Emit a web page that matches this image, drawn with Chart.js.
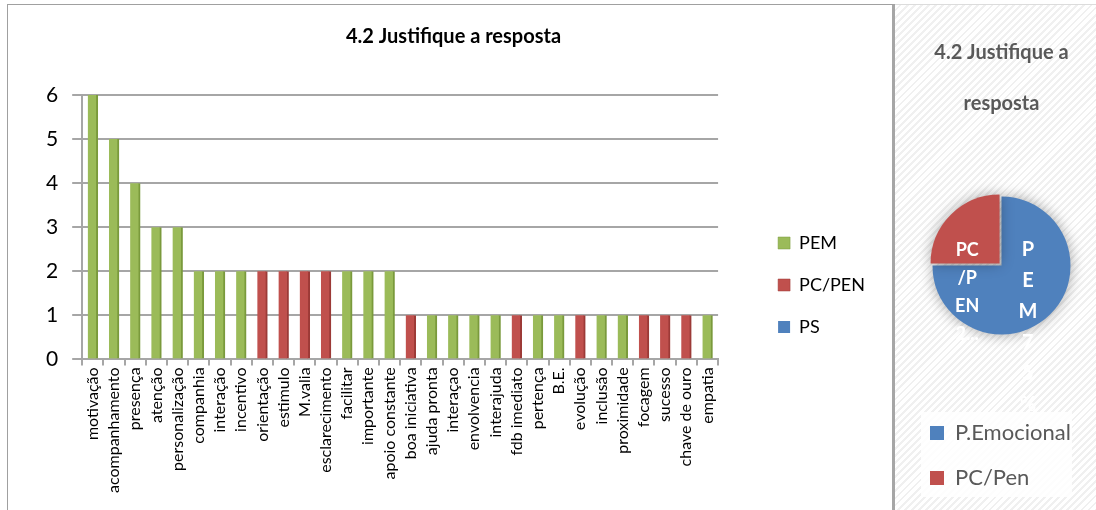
<!DOCTYPE html>
<html>
<head>
<meta charset="utf-8">
<script src="https://cdn.jsdelivr.net/npm/chart.js@4.4.1/dist/chart.umd.min.js"></script>
<style>
	body { margin: 0; background: #fff; font-family: Lato, sans-serif; }
	#wrap { position: relative; width: 1096px; height: 510px; overflow: hidden; }
	#barBox { position: absolute; left: 7px; top: 4px; width: 888px; height: 510px; border: 1px solid #a0a0a0; border-right: 3px solid #a6a6a6; box-sizing: border-box; }
	#pieBox { position: absolute; left: 895px; top: 4px; width: 201px; height: 506px; border-top: 1px solid #dcdcdc; overflow: hidden;
		background: repeating-linear-gradient(-45deg, #f0f0f0 0 2px, #fff 2px 5px); }
	canvas { display: block; }
</style>
</head>
<body>
<div id="wrap">
	<div id="barBox"><canvas id="barChart" width="884" height="505"></canvas></div>
	<div id="pieBox"><canvas id="pieChart" width="201" height="509"></canvas></div>
</div>
<script>
const categories = ['motivação', 'acompanhamento', 'presença', 'atenção', 'personalização', 'companhia',
	'interação', 'incentivo', 'orientação', 'estimulo', 'M.valia', 'esclarecimento', 'facilitar',
	'importante', 'apoio constante', 'boa iniciativa', 'ajuda pronta', 'interaçao', 'envolvencia',
	'interajuda', 'fdb imediato', 'pertença', 'B.E.', 'evolução', 'inclusão', 'proximidade',
	'focagem', 'sucesso', 'chave de ouro', 'empatia'];
const pemValues = [6, 5, 4, 3, 3, 2, 2, 2, null, null, null, null, 2, 2, 2, null, 1, 1, 1, 1, null, 1, 1, null, 1, 1, null, null, null, 1];
const pcpenValues = [null, null, null, null, null, null, null, null, 2, 2, 2, 2, null, null, null, 1, null, null, null, null, 1, null, null, 1, null, null, 1, 1, 1, null];
const psValues = [];
const yTicks = [0, 1, 2, 3, 4, 5, 6];

const pieLabels = ['P.Emocional', 'PC/Pen'];
const pieValues = [75, 25];
const pieDataLabels = [['P', 'E', 'M', '7', '5', '%'], ['PC', '/P', 'EN', '2...']];

const GREEN = '#9bbb59';
const RED = '#c0504d';
const BLUE = '#4f81bd';
const GRID = '#a6a6a6';

new Chart(document.getElementById('barChart').getContext('2d'), {
	type: 'bar',
	data: {
		labels: categories,
		datasets: [
			{ label: 'PEM', data: pemValues, backgroundColor: GREEN, borderColor: '#7a9a3c', borderWidth: { right: 2 } },
			{ label: 'PC/PEN', data: pcpenValues, backgroundColor: RED, borderColor: '#9c3a37', borderWidth: { right: 2 } },
			{ label: 'PS', data: psValues, backgroundColor: BLUE }
		]
	},
	options: {
		responsive: false,
		animation: false,
		barThickness: 10,
		layout: { padding: { left: 24, bottom: 15, top: 0, right: 17 } },
		scales: {
			x: {
				stacked: true,
				grid: { drawOnChartArea: false, offset: true, tickLength: 6, color: GRID, lineWidth: 2 },
				border: { color: GRID, width: 2 },
				ticks: { font: { family: 'Lato', size: 16 }, color: '#000', maxRotation: 90, minRotation: 90, autoSkip: false, padding: 2 }
			},
			y: {
				stacked: true,
				min: 0,
				max: 6,
				afterBuildTicks: (scale) => { scale.ticks = yTicks.map(v => ({ value: v })); },
				grid: { color: GRID, lineWidth: 2, tickLength: 10 },
				border: { color: GRID, width: 2 },
				ticks: { font: { family: 'Lato', size: 21 }, color: '#000', padding: 14 }
			},
			gap: {
				type: 'linear',
				position: 'right',
				grid: { display: false },
				border: { display: false },
				ticks: { display: false },
				afterFit: (scale) => { scale.width = 36; }
			}
		},
		plugins: {
			title: {
				display: true,
				text: '4.2 Justifique a resposta',
				color: '#000',
				font: { family: 'Lato', size: 20, weight: 'bold' },
				padding: { top: 20, bottom: 46 }
			},
			legend: {
				position: 'right',
				title: { display: true, text: ' ', padding: 29, font: { size: 10 } },
				labels: { boxWidth: 12, boxHeight: 12, padding: 24, color: '#000', font: { family: 'Lato', size: 18 } }
			},
			tooltip: { enabled: false }
		}
	}
});

const pieShadow = {
	id: 'pieShadow',
	beforeDatasetsDraw(chart) {
		const ctx = chart.ctx;
		ctx.save();
		ctx.shadowColor = 'rgba(0,0,0,0.35)';
		ctx.shadowBlur = 14;
	},
	afterDatasetsDraw(chart) {
		chart.ctx.restore();
	}
};

// pale box behind the pie legend, like the original
const legendBack = {
	id: 'legendBack',
	beforeDraw(chart) {
		const lg = chart.legend;
		const boxes = lg.legendHitBoxes;
		if (!boxes || !boxes.length) return;
		const ctx = chart.ctx;
		ctx.save();
		ctx.fillStyle = 'rgba(255,255,255,0.85)';
		const x0 = boxes[0].left - 9;
		ctx.fillRect(x0, lg.top + 13, chart.width - 24 - x0, lg.bottom - lg.top - 15);
		ctx.restore();
	}
};

const pieText = {
	id: 'pieText',
	afterDraw(chart) {
		const ctx = chart.ctx;
		const arcs = chart.getDatasetMeta(0).data;
		ctx.save();
		ctx.fillStyle = '#fff';
		ctx.textAlign = 'center';
		ctx.textBaseline = 'middle';
		ctx.font = 'bold 20px Lato';
		const p0 = arcs[0].tooltipPosition();
		pieDataLabels[0].forEach((t, i) => ctx.fillText(t, p0.x + 2, p0.y - 40 + i * 31));
		ctx.font = 'bold 18px Lato';
		const p1 = arcs[1].tooltipPosition();
		pieDataLabels[1].forEach((t, i) => ctx.fillText(t, p1.x - 6, p1.y + 13 + i * 28));
		ctx.restore();
	}
};

new Chart(document.getElementById('pieChart').getContext('2d'), {
	type: 'pie',
	data: {
		labels: pieLabels,
		datasets: [{
			data: pieValues,
			backgroundColor: [BLUE, RED],
			borderWidth: 0,
			offset: [0, 11]
		}]
	},
	options: {
		responsive: false,
		animation: false,
		radius: 69,
		layout: { padding: { left: 12, right: 0, top: 0, bottom: 15 } },
		plugins: {
			title: {
				display: true,
				text: ['4.2 Justifique a', 'resposta'],
				color: '#595959',
				font: { family: 'Lato', size: 20, weight: 'bold', lineHeight: 2.55 },
				padding: { top: 22, bottom: 3 }
			},
			legend: {
				position: 'bottom',
				align: 'start',
				labels: { boxWidth: 14, boxHeight: 14, padding: 23, color: '#595959', font: { family: 'Lato', size: 22 } }
			},
			tooltip: { enabled: false }
		}
	},
	plugins: [pieShadow, legendBack, pieText]
});
</script>
</body>
</html>
